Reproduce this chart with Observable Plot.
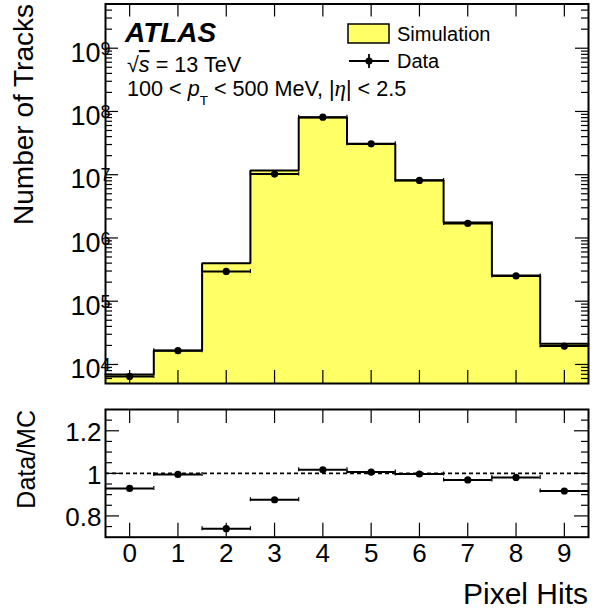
<!DOCTYPE html>
<html><head><meta charset="utf-8">
<script src="https://cdn.jsdelivr.net/npm/d3@7"></script>
<script src="https://cdn.jsdelivr.net/npm/@observablehq/plot@0.6"></script>
<style>
html,body{margin:0;padding:0;background:#fff;}
#chart{position:relative;width:592px;height:612px;font-family:"Liberation Sans",Arial,sans-serif;}
#chart svg{position:absolute;left:0;overflow:visible;}
</style></head><body><div id="chart"></div>
<script>
// ---- data ----
const bins = [0, 1, 2, 3, 4, 5, 6, 7, 8, 9];
const xTickLabels = ["0", "1", "2", "3", "4", "5", "6", "7", "8", "9"];
const simulation = [6950, 16600, 400000, 11700000, 80000000, 30600000, 8150000, 1750000, 256000, 21200];
const dataCounts = [6460, 16500, 296000, 10250000, 81300000, 30800000, 8130000, 1700000, 251000, 19500];
const ratio = [0.929, 0.995, 0.740, 0.876, 1.017, 1.006, 0.997, 0.969, 0.981, 0.917];
const mainDomain = [5e3, 5e9];
const mainMajorTicks = [1e4, 1e5, 1e6, 1e7, 1e8, 1e9];
const ratioDomain = [0.7, 1.3];
const ratioMajorTicks = [0.8, 1, 1.2];
const ratioTickLabels = ["0.8", "1", "1.2"];
const ratioMinorTicks = [0.75, 0.85, 0.9, 0.95, 1.05, 1.1, 1.15, 1.25];

const FONT = "Liberation Sans, Arial, sans-serif";
const YELLOW = "#ffff66";
const W = 592, mL = 105, mR = 4;
const innerW = W - mL - mR;

const mainMinorTicks = d3.scaleLog().domain(mainDomain).ticks()
  .filter(v => v > mainDomain[0] && v < mainDomain[1] && !mainMajorTicks.includes(v));

const lo = i => i - 0.5, hi = i => i + 0.5;

// ---------- main panel ----------
const H1 = 395, mT1 = 3.5, mB1 = 12, innerH1 = H1 - mT1 - mB1;
const stepPts = bins.flatMap(i => [{x: lo(i), y: simulation[i]}, {x: hi(i), y: simulation[i]}]);
const capPts = (vals) => bins.flatMap(i => [{x: lo(i), y: vals[i]}, {x: hi(i), y: vals[i]}]);

const topPlot = Plot.plot({
  width: W, height: H1, marginTop: mT1, marginBottom: mB1, marginLeft: mL, marginRight: mR,
  x: {domain: [-0.5, 9.5], axis: null},
  y: {type: "log", domain: mainDomain, axis: null},
  style: {background: "transparent", fontFamily: FONT, fontSize: "27px", overflow: "visible"},
  marks: [
    Plot.area(stepPts, {x1: "x", y1: () => mainDomain[0], y2: "y", fill: YELLOW}),
    Plot.line(stepPts, {x: "x", y: "y", stroke: "black", strokeWidth: 2, strokeLinejoin: "miter"}),
    Plot.ruleY(bins, {y: i => dataCounts[i], x1: lo, x2: hi, stroke: "black", strokeWidth: 2}),
    Plot.ruleX(capPts(dataCounts), {x: "x", y1: "y", y2: "y", insetTop: -2, insetBottom: -2, stroke: "black", strokeWidth: 1.2}),
    Plot.dot(bins, {x: i => i, y: i => dataCounts[i], r: 3.6, fill: "black", stroke: "none"}),
    // ticks (inward)
    Plot.tickX(bins, {x: d => d, insetTop: innerH1 - 13, stroke: "black", strokeWidth: 1.2}),
    Plot.tickX(bins, {x: d => d, insetBottom: innerH1 - 13, stroke: "black", strokeWidth: 1.2}),
    Plot.tickY(mainMajorTicks, {y: d => d, insetRight: innerW - 13, stroke: "black", strokeWidth: 1.2}),
    Plot.tickY(mainMajorTicks, {y: d => d, insetLeft: innerW - 13, stroke: "black", strokeWidth: 1.2}),
    Plot.tickY(mainMinorTicks, {y: d => d, insetRight: innerW - 7, stroke: "black", strokeWidth: 1.2}),
    Plot.tickY(mainMinorTicks, {y: d => d, insetLeft: innerW - 7, stroke: "black", strokeWidth: 1.2}),
    Plot.frame({stroke: "black", strokeWidth: 2}),
    Plot.text(mainMajorTicks, {y: d => d, text: d => "10^" + Math.round(Math.log10(d)), frameAnchor: "left",
      textAnchor: "end", dx: 5, dy: 5, fontSize: 27, fill: "black"})
  ]
});
topPlot.style.top = "0px";

const NS = "http://www.w3.org/2000/svg";
topPlot.querySelectorAll("text").forEach(t => {
  const m = /^10\^(\d+)$/.exec(t.textContent);
  if (m) {
    t.textContent = "10";
    const ts = document.createElementNS(NS, "tspan");
    ts.setAttribute("dy", "-7");
    ts.setAttribute("font-size", "18");
    ts.textContent = m[1];
    t.appendChild(ts);
  }
});

// annotations + legend on main panel
const s1 = d3.select(topPlot);
const g = s1.append("g").attr("font-family", FONT).attr("fill", "black").attr("text-anchor", "start");
g.append("text").attr("x", 125).attr("y", 42).attr("font-size", 28).attr("font-weight", "bold")
  .attr("font-style", "italic").text("ATLAS");
const t2 = g.append("text").attr("x", 127).attr("y", 72).attr("font-size", 21.6);
t2.append("tspan").text("√");
t2.append("tspan").attr("font-style", "italic").attr("text-decoration", "overline").text("s");
t2.append("tspan").text(" = 13 TeV");
const t3 = g.append("text").attr("x", 127).attr("y", 96).attr("font-size", 21.6);
t3.append("tspan").text("100 < ");
t3.append("tspan").attr("font-style", "italic").text("p");
t3.append("tspan").attr("font-size", 13.5).attr("dy", 9).text("T");
t3.append("tspan").attr("dy", -9).text(" < 500 MeV, |");
t3.append("tspan").attr("font-style", "italic").attr("font-family", "Liberation Serif, serif").attr("font-size", 23).text("η");
t3.append("tspan").text("| < 2.5");
// legend
g.append("rect").attr("x", 348).attr("y", 24).attr("width", 41).attr("height", 19)
  .attr("fill", YELLOW).attr("stroke", "black").attr("stroke-width", 1.5);
g.append("text").attr("x", 397).attr("y", 41).attr("font-size", 20).text("Simulation");
g.append("line").attr("x1", 349).attr("x2", 389).attr("y1", 61).attr("y2", 61).attr("stroke", "black").attr("stroke-width", 1.8);
g.append("line").attr("x1", 369).attr("x2", 369).attr("y1", 54).attr("y2", 68).attr("stroke", "black").attr("stroke-width", 1.8);
g.append("circle").attr("cx", 369).attr("cy", 61).attr("r", 3.6);
g.append("text").attr("x", 397).attr("y", 68).attr("font-size", 20).text("Data");
g.append("text").attr("transform", "translate(33,4) rotate(-90)").attr("text-anchor", "end")
  .attr("font-size", 28).text("Number of Tracks");

// ---------- ratio panel ----------
const H2 = 612 - H1, mT2 = 14, mB2 = 75.3, innerH2 = H2 - mT2 - mB2;
const ratioPlot = Plot.plot({
  width: W, height: H2, marginTop: mT2, marginBottom: mB2, marginLeft: mL, marginRight: mR,
  x: {domain: [-0.5, 9.5], axis: null},
  y: {domain: ratioDomain, axis: null},
  style: {background: "transparent", fontFamily: FONT, fontSize: "26px", overflow: "visible"},
  marks: [
    Plot.ruleY([1], {stroke: "black", strokeWidth: 1.6, strokeDasharray: "4,3"}),
    Plot.ruleY(bins, {y: i => ratio[i], x1: lo, x2: hi, stroke: "black", strokeWidth: 2}),
    Plot.ruleX(capPts(ratio), {x: "x", y1: "y", y2: "y", insetTop: -2, insetBottom: -2, stroke: "black", strokeWidth: 1.2}),
    Plot.dot(bins, {x: i => i, y: i => ratio[i], r: 3.6, fill: "black", stroke: "none"}),
    Plot.tickX(bins, {x: d => d, insetTop: innerH2 - 14, stroke: "black", strokeWidth: 1.2}),
    Plot.tickX(bins, {x: d => d, insetBottom: innerH2 - 14, stroke: "black", strokeWidth: 1.2}),
    Plot.tickY(ratioMajorTicks, {y: d => d, insetRight: innerW - 14, stroke: "black", strokeWidth: 1.2}),
    Plot.tickY(ratioMajorTicks, {y: d => d, insetLeft: innerW - 14, stroke: "black", strokeWidth: 1.2}),
    Plot.tickY(ratioMinorTicks, {y: d => d, insetRight: innerW - 7, stroke: "black", strokeWidth: 1.2}),
    Plot.tickY(ratioMinorTicks, {y: d => d, insetLeft: innerW - 7, stroke: "black", strokeWidth: 1.2}),
    Plot.frame({stroke: "black", strokeWidth: 2}),
    Plot.text(ratioMajorTicks, {y: d => d, text: (d, i) => ratioTickLabels[i], frameAnchor: "left",
      textAnchor: "end", dx: -4, dy: 2, fontSize: 26, fill: "black"}),
    Plot.text(bins, {x: d => d, text: (d, i) => xTickLabels[i], frameAnchor: "bottom",
      lineAnchor: "top", dy: 6, fontSize: 26, fill: "black"})
  ]
});
ratioPlot.style.top = H1 + "px";
const s2 = d3.select(ratioPlot);
const g2 = s2.append("g").attr("font-family", FONT).attr("fill", "black");
g2.append("text").attr("transform", "translate(35,15) rotate(-90)").attr("text-anchor", "end")
  .attr("font-size", 25).text("Data/MC");
g2.append("text").attr("x", 588).attr("y", 604 - H1).attr("text-anchor", "end")
  .attr("font-size", 30).text("Pixel Hits");

const chart = document.getElementById("chart");
chart.appendChild(topPlot);
chart.appendChild(ratioPlot);
</script></body></html>
